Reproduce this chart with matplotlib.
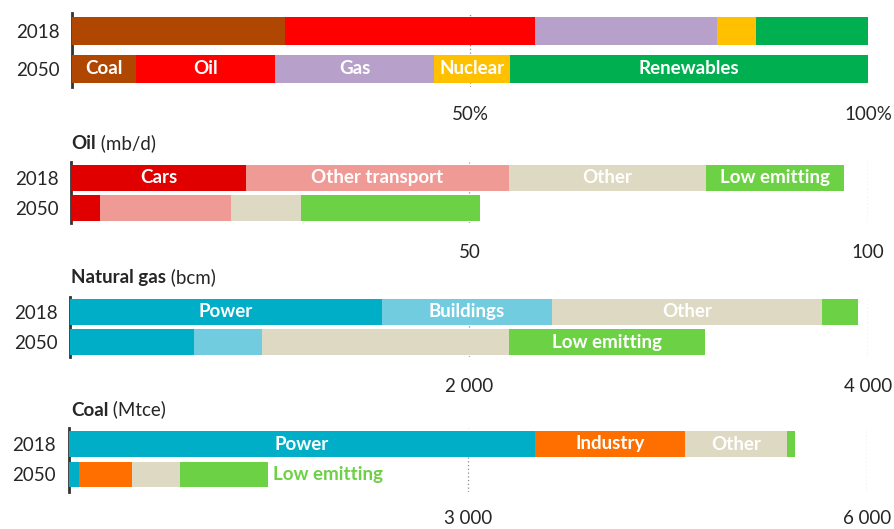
import matplotlib.pyplot as plt

plt.rcParams['font.family'] = ['Lato', 'DejaVu Sans']

W, H = 895, 529
FS = 13.5

years = ['2018', '2050']

# primary energy mix (%)
mix_labels = ['Coal', 'Oil', 'Gas', 'Nuclear', 'Renewables']
mix_2018 = [26.7, 31.5, 22.8, 4.9, 14.1]
mix_2050 = [8.0, 17.5, 20.0, 9.5, 45.0]

# oil demand (mb/d)
oil_labels = ['Cars', 'Other transport', 'Other', 'Low emitting']
oil_2018 = [22.0, 32.9, 24.8, 17.3]
oil_2050 = [3.7, 16.4, 8.7, 22.5]

# natural gas demand (bcm)
gas_labels = ['Power', 'Buildings', 'Other', 'Low emitting']
gas_2018 = [1565, 850, 1355, 180]
gas_2050 = [620, 340, 1240, 985]

# coal demand (Mtce)
coal_labels = ['Power', 'Industry', 'Other', 'Low emitting']
coal_2018 = [3500, 1130, 765, 60]
coal_2050 = [80, 400, 355, 660]

BROWN, RED, LILAC, AMBER, GREEN = '#AF4700', '#FF0000', '#B7A1CA', '#FFC000', '#00B050'
CARS, PINK, BEIGE, LGREEN = '#E00000', '#F09A96', '#DED9C2', '#6CD144'
TEAL, LTEAL, ORANGE = '#00AEC7', '#72CCDF', '#FF6F00'
TXT = '#262626'


def px_rect(left, top, right, bottom):
    return [left / W, 1 - bottom / H, (right - left) / W, (bottom - top) / H]


def panel(fig, rect, xmax, ticks, ticklabels, vals18, vals50, colors, ylim, h, pad):
    ax = fig.add_axes(px_rect(*rect))
    for yi, vals in enumerate([vals18, vals50]):
        left = 0
        for v, c in zip(vals, colors):
            ax.barh(yi, v, left=left, height=h, color=c, edgecolor='none', zorder=3)
            left += v
    ax.set_xlim(0, xmax)
    ax.set_ylim(*ylim)
    ax.set_yticks([0, 1])
    ax.set_yticklabels(years, fontsize=FS, color=TXT)
    ax.set_xticks(ticks)
    ax.set_xticklabels(ticklabels, fontsize=FS, color=TXT)
    ax.tick_params(axis='both', length=0)
    ax.tick_params(axis='x', pad=pad)
    ax.tick_params(axis='y', pad=9)
    for s in ['top', 'right', 'bottom']:
        ax.spines[s].set_visible(False)
    ax.spines['left'].set_linewidth(2)
    ax.spines['left'].set_color('#333333')
    ax.grid(axis='x', linestyle=(0, (1, 2)), color='#8c8c8c', linewidth=0.9, zorder=0)
    ax.set_axisbelow(True)
    ax.patch.set_alpha(0)
    return ax


def seg_labels(ax, yi, vals, labels, skip=()):
    left = 0
    for v, lab in zip(vals, labels):
        if lab not in skip:
            ax.text(left + v / 2, yi, lab, ha='center', va='center', color='white',
                    fontsize=FS, fontweight='bold', zorder=4)
        left += v


def title(fig, x, y, bold, rest):
    t = fig.text(x / W, 1 - y / H, bold, fontsize=FS, fontweight='bold', color=TXT,
                 va='center', ha='left')
    plt.annotate(rest, xy=(1, 0), xycoords=t, va='bottom', ha='left',
                 fontsize=FS, color=TXT, annotation_clip=False)


fig = plt.figure(figsize=(W / 100, H / 100), dpi=100)

# panel 1: shares
ax1 = panel(fig, (72, 13, 868, 87), 100, [50, 100], ['50%', '100%'], mix_2018, mix_2050,
            [BROWN, RED, LILAC, AMBER, GREEN], (1.49, -0.48), 0.75, 14)
seg_labels(ax1, 1, mix_2050, mix_labels)

# panel 2: oil
ax2 = panel(fig, (71, 162, 868, 223), 100, [50, 100], ['50', '100'], oil_2018, oil_2050,
            [CARS, PINK, BEIGE, LGREEN], (1.50, -0.52), 0.86, 15)
seg_labels(ax2, 0, oil_2018, oil_labels)
title(fig, 71, 144, 'Oil', ' (mb/d)')

# panel 3: natural gas
ax3 = panel(fig, (70, 297, 868, 357), 4000, [2000, 4000], ['2 000', '4 000'], gas_2018, gas_2050,
            [TEAL, LTEAL, BEIGE, LGREEN], (1.49, -0.49), 0.87, 15)
seg_labels(ax3, 0, gas_2018, gas_labels, skip=('Low emitting',))
seg_labels(ax3, 1, gas_2050, gas_labels, skip=('Power', 'Buildings', 'Other'))
title(fig, 71, 278, 'Natural gas', ' (bcm)')

# panel 4: coal
ax4 = panel(fig, (68.5, 428, 867.5, 492), 6000, [3000, 6000], ['3 000', '6 000'], coal_2018, coal_2050,
            [TEAL, ORANGE, BEIGE, LGREEN], (1.59, -0.53), 0.83, 13)
seg_labels(ax4, 0, coal_2018, coal_labels, skip=('Low emitting',))
ax4.annotate('Low emitting', xy=(sum(coal_2050), 1), xytext=(4, 0), textcoords='offset points',
             ha='left', va='center', color=LGREEN, fontsize=FS, fontweight='bold')
title(fig, 71, 410, 'Coal', ' (Mtce)')

fig.savefig('out.png', dpi=100)
